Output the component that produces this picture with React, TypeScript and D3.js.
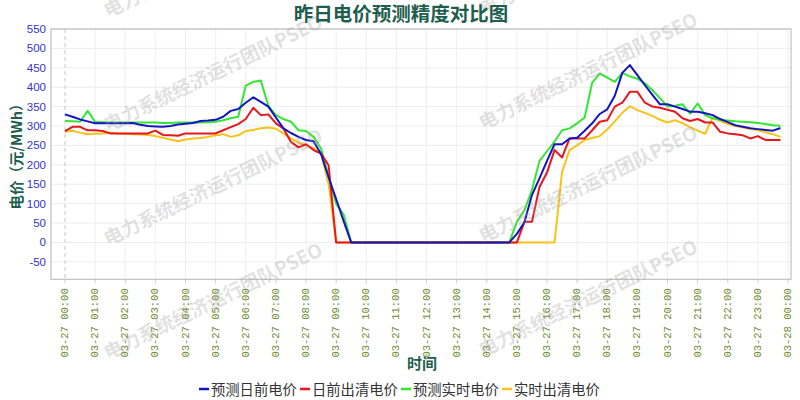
import React from 'react';
import * as d3 from 'd3';

const W = 800;
const H = 400;

const tickLabels = [
  '03-27 00:00', '03-27 01:00', '03-27 02:00', '03-27 03:00', '03-27 04:00',
  '03-27 05:00', '03-27 06:00', '03-27 07:00', '03-27 08:00', '03-27 09:00',
  '03-27 10:00', '03-27 11:00', '03-27 12:00', '03-27 13:00', '03-27 14:00',
  '03-27 15:00', '03-27 16:00', '03-27 17:00', '03-27 18:00', '03-27 19:00',
  '03-27 20:00', '03-27 21:00', '03-27 22:00', '03-27 23:00', '03-28 00:00',
];

// 15-minute steps, expressed in hours since 03-27 00:00
const timeSteps = d3.range(96).map((i) => i / 4);

const predDayAhead = [
  330, 324, 317, 312, 307, 307, 307, 307, 307, 308, 303, 300, 299, 298, 300, 304,
  306, 308, 313, 314, 316, 324, 339, 344, 360, 374, 362, 350, 322, 294, 282, 272,
  264, 261, 228, 168, 112, 55, 0, 0, 0, 0, 0, 0, 0, 0, 0, 0,
  0, 0, 0, 0, 0, 0, 0, 0, 0, 0, 0, 0, 22, 52, 122, 165,
  210, 253, 253, 268, 270, 288, 307, 331, 343, 378, 437, 457, 431, 405, 380, 356,
  356, 350, 344, 337, 337, 333, 328, 318, 310, 302, 298, 294, 292, 290, 288, 295,
];

const dayAheadClear = [
  287, 298, 298, 289, 289, 287, 281, 281, 281, 281, 281, 281, 288, 277, 276, 275,
  281, 281, 281, 281, 281, 289, 297, 305, 318, 347, 328, 330, 307, 294, 259, 245,
  253, 238, 229, 199, 0, 0, 0, 0, 0, 0, 0, 0, 0, 0, 0, 0,
  0, 0, 0, 0, 0, 0, 0, 0, 0, 0, 0, 0, 0, 53, 53, 143,
  180, 238, 219, 268, 268, 268, 289, 311, 315, 350, 360, 388, 388, 360, 350, 347,
  342, 337, 320, 313, 318, 309, 309, 285, 281, 279, 276, 268, 274, 264, 264, 264,
];

const predRealTime = [
  313, 312, 311, 339, 311, 310, 309, 309, 309, 309, 309, 309, 309, 308, 308, 309,
  309, 309, 309, 310, 311, 315, 320, 324, 404, 414, 417, 352, 328, 318, 311, 289,
  287, 272, 242, 170, 100, 72, 0, 0, 0, 0, 0, 0, 0, 0, 0, 0,
  0, 0, 0, 0, 0, 0, 0, 0, 0, 0, 0, 0, 53, 83, 135, 210,
  235, 260, 289, 294, 307, 322, 412, 435, 425, 414, 437, 428, 422, 410, 392, 372,
  350, 352, 356, 332, 358, 328, 320, 316, 314, 312, 311, 310, 308, 305, 302, 301,
];

const realTimeClear = [
  285, 288, 283, 279, 280, 281, 283, 281, 280, 279, 278, 277, 274, 270, 265, 261,
  265, 268, 269, 272, 276, 279, 272, 276, 287, 290, 294, 296, 293, 281, 268, 257,
  250, 243, 228, 150, 0, 0, 0, 0, 0, 0, 0, 0, 0, 0, 0, 0,
  0, 0, 0, 0, 0, 0, 0, 0, 0, 0, 0, 0, 0, 0, 0, 0,
  0, 0, 182, 238, 250, 264, 269, 274, 291, 312, 334, 351, 341, 334, 326, 316,
  309, 315, 307, 297, 288, 280, 322, 313, 305, 300, 296, 292, 289, 284, 279, 272,
];

const yTicks = [-50, 0, 50, 100, 150, 200, 250, 300, 350, 400, 450, 500, 550];

const seriesNames = ['预测日前电价', '日前出清电价', '预测实时电价', '实时出清电价'];
const seriesColors = ['#1414c4', '#e8161c', '#33e633', '#f7c31a'];
const seriesData = [predDayAhead, dayAheadClear, predRealTime, realTimeClear];
const drawOrder = [3, 2, 1, 0];

const watermarkText = '电力系统经济运行团队PSEO';
const watermarkStarts: [number, number][] = [
  [108, 18], [108, 132], [108, 246], [108, 360],
  [483, 16], [483, 130], [483, 243], [483, 357],
];

const titleText = '昨日电价预测精度对比图';
const yAxisTitle = '电价（元/MWh）';
const xAxisTitle = '时间';

export default function App() {
  const plot = { left: 51, right: 791, top: 29, bottom: 279.3 };
  const x = d3.scaleLinear().domain([0, 24]).range([65, 788]);
  const y = d3.scaleLinear().domain([-95, 550]).range([plot.bottom, plot.top]);
  const line = d3
    .line<number>()
    .x((_, i) => x(timeSteps[i]))
    .y((d) => y(d));

  const cjk = '"Noto Sans CJK SC", "Noto Sans", sans-serif';
  const titleColor = '#1e5e4e';

  return (
    <div style={{ position: 'fixed', left: 0, top: 0, width: W, height: H, background: '#fff' }}>
      <svg width={W} height={H} style={{ display: 'block' }}>
        <rect x={0} y={0} width={W} height={H} fill="#fff" />
        {/* horizontal grid */}
        {yTicks.map((t) => (
          <line key={'hg' + t} x1={plot.left} x2={plot.right} y1={y(t)} y2={y(t)} stroke="#ececec" strokeWidth={1} />
        ))}
        {/* vertical grid */}
        {tickLabels.map((_, i) =>
          i === 0 ? (
            <line key={'vg' + i} x1={x(i)} x2={x(i)} y1={plot.top} y2={plot.bottom} stroke="#c8c8c8" strokeWidth={1} strokeDasharray="4,3" />
          ) : (
            <line key={'vg' + i} x1={x(i)} x2={x(i)} y1={plot.top} y2={plot.bottom} stroke="#eeeeee" strokeWidth={1} />
          )
        )}
        {/* series */}
        {drawOrder.map((s) => (
          <path key={'s' + s} d={line(seriesData[s]) || ''} fill="none" stroke={seriesColors[s]} strokeWidth={2} strokeLinejoin="round" />
        ))}
        {/* border */}
        <rect x={plot.left} y={plot.top} width={plot.right - plot.left} height={plot.bottom - plot.top} fill="none" stroke="#b4b4b4" strokeWidth={1} />
        {/* x ticks */}
        {tickLabels.map((lab, i) => (
          <g key={'xt' + i}>
            <line x1={x(i)} x2={x(i)} y1={plot.bottom} y2={plot.bottom + 4} stroke="#cccccc" />
            <text
              transform={`translate(${x(i)},${plot.bottom + 9}) rotate(-90)`}
              textAnchor="end"
              dominantBaseline="central"
              fontFamily='"Liberation Mono", "DejaVu Sans Mono", monospace'
              fontSize={10.5}
              fill="#6f8c30"
            >
              {lab}
            </text>
          </g>
        ))}
        {/* y ticks */}
        {yTicks.map((t) => (
          <text key={'yt' + t} x={46} y={y(t)} textAnchor="end" dominantBaseline="central" fontFamily='"Liberation Sans", Arial, sans-serif' fontSize={11.5} fill="#3333cc">
            {t}
          </text>
        ))}
        {/* watermark */}
        {watermarkStarts.map(([wx, wy], i) => (
          <text key={'wm' + i} transform={`translate(${wx},${wy}) rotate(-26)`} fontFamily={cjk} fontWeight="bold" fontSize={19} fill="#a0a0a0" fillOpacity={0.32}>
            {watermarkText}
          </text>
        ))}
        {/* titles */}
        <text x={401} y={12} textAnchor="middle" dominantBaseline="central" fontFamily={cjk} fontWeight="bold" fontSize={19.5} fill={titleColor}>
          {titleText}
        </text>
        <text transform="translate(15,153) rotate(-90)" textAnchor="middle" dominantBaseline="central" fontFamily={cjk} fontWeight="bold" fontSize={14.5} fill={titleColor}>
          {yAxisTitle}
        </text>
        <text x={422} y={362} textAnchor="middle" dominantBaseline="central" fontFamily={cjk} fontWeight="bold" fontSize={15} fill={titleColor}>
          {xAxisTitle}
        </text>
        {/* legend */}
        {seriesNames.map((name, i) => {
          const lx = 199 + i * 101;
          return (
            <g key={'lg' + i}>
              <line x1={lx} x2={lx + 10} y1={389} y2={389} stroke={seriesColors[i]} strokeWidth={2.5} />
              <text x={lx + 12} y={388.5} dominantBaseline="central" fontFamily={cjk} fontSize={14.3} fill="#333333">
                {name}
              </text>
            </g>
          );
        })}
      </svg>
    </div>
  );
}
